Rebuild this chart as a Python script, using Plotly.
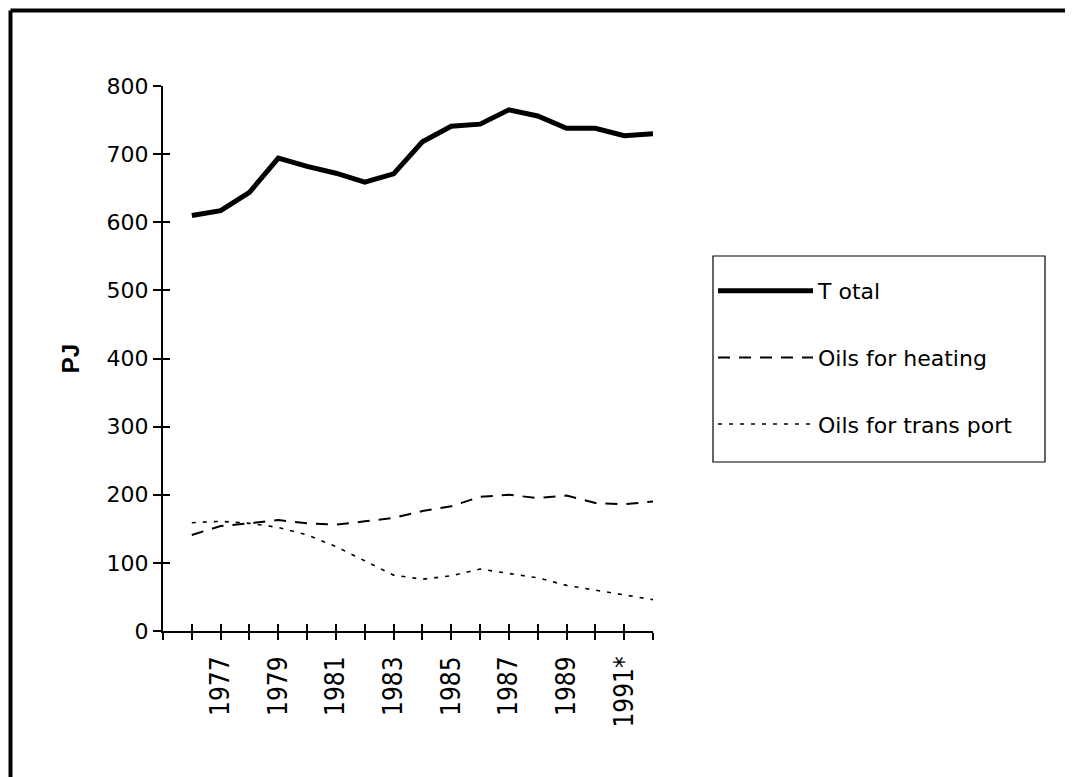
import plotly.graph_objects as go

years = list(range(1976, 1993))
total = [610, 617, 644, 694, 682, 672, 659, 671, 718, 741, 744, 765, 756, 738, 738, 727, 730]
heating = [141, 154, 158, 163, 158, 156, 161, 166, 176, 183, 197, 200, 195, 199, 188, 186, 190]
transport = [159, 161, 158, 152, 141, 124, 103, 82, 76, 81, 91, 85, 78, 67, 60, 53, 46]

tick_years = list(range(1975, 1993))
tick_labels = ["", "", "1977", "", "1979", "", "1981", "", "1983", "", "1985", "", "1987", "", "1989", "", "1991*", ""]
y_ticks = [0, 100, 200, 300, 400, 500, 600, 700, 800]

OFF = 8  # page body margin
W, H = 1073 - OFF, 777 - OFF
L, T = 163 - OFF, 86 - OFF
R = W - (653 - OFF)
B = H - (631 - OFF)
pw = W - L - R
ph = H - T - B

def px(x):
    return (x - OFF - L) / pw

def py(y):
    return (H - B - (y - OFF)) / ph

fig = go.Figure()
fig.add_trace(go.Scatter(x=years, y=total, name="T otal", mode="lines",
                         line=dict(color="black", width=5), legendgroup="a"))
fig.add_trace(go.Scatter(x=years, y=heating, name="Oils for heating", mode="lines",
                         line=dict(color="black", width=2, dash="12px,9px"), legendgroup="b"))
fig.add_trace(go.Scatter(x=years, y=transport, name="Oils for trans port", mode="lines",
                         line=dict(color="black", width=1.6, dash="4px,7px"), legendgroup="c"))
# helper trace on a second, coincident subplot that carries the inner halves of the crossing tick marks
fig.add_trace(go.Scatter(x=[years[0]], y=[total[0]], xaxis="x2", yaxis="y2", mode="markers",
                         marker=dict(opacity=0), showlegend=False, hoverinfo="skip"))

axis_font = dict(family="Liberation Sans Narrow, DejaVu Sans Condensed, Liberation Sans", size=26, color="black")
fig.update_layout(
    width=W, height=H,
    margin=dict(l=L, r=R, t=T, b=B),
    paper_bgcolor="white", plot_bgcolor="rgba(0,0,0,0)",
    showlegend=True,
    xaxis=dict(domain=[0, 1], anchor="y", range=[1975, 1992], tickmode="array", tickvals=tick_years,
               ticktext=tick_labels,
               tickangle=-90, ticks="outside", ticklen=7, tickwidth=2, tickcolor="black",
               showline=True, linecolor="black", linewidth=2, showgrid=False, zeroline=False,
               tickfont=axis_font, ticklabelstandoff=6),
    yaxis=dict(domain=[0, 1], anchor="x", range=[0, 800], tickmode="array", tickvals=y_ticks,
               ticks="outside", ticklen=8, tickwidth=2, tickcolor="black",
               showline=True, linecolor="black", linewidth=2, showgrid=False, zeroline=False,
               tickfont=dict(family="DejaVu Sans", size=22, color="black"),
               title=dict(text="<b>PJ</b>", font=dict(family="Liberation Sans", size=24, color="black"),
                          standoff=20)),
    xaxis2=dict(domain=[0, 1], anchor="y2", range=[1975, 1992], tickmode="array", tickvals=tick_years,
                ticks="inside", ticklen=7, tickwidth=2, tickcolor="black", showticklabels=False,
                showgrid=False, zeroline=False, showline=False),
    yaxis2=dict(domain=[0, 1], anchor="x2", range=[0, 800], tickmode="array", tickvals=y_ticks,
                ticks="inside", ticklen=7, tickwidth=2, tickcolor="black", showticklabels=False,
                showgrid=False, zeroline=False, showline=False),
    legend=dict(x=px(713), y=py(270), xanchor="left", yanchor="top",
                borderwidth=0, bgcolor="rgba(0,0,0,0)",
                font=dict(family="DejaVu Sans", size=22, color="black"),
                itemwidth=95, tracegroupgap=35, traceorder="grouped"),
    shapes=[
        dict(type="line", xref="paper", yref="paper", x0=px(10.5), x1=px(1090), y0=py(10.5), y1=py(10.5),
             line=dict(color="black", width=4)),
        dict(type="line", xref="paper", yref="paper", x0=px(10.5), x1=px(10.5), y0=py(10.5), y1=py(800),
             line=dict(color="black", width=4)),
        dict(type="rect", xref="paper", yref="paper", x0=px(713), x1=px(1045), y0=py(256), y1=py(462),
             line=dict(color="black", width=1.2), fillcolor="rgba(0,0,0,0)"),
    ],
)

fig.write_html("out.html")
